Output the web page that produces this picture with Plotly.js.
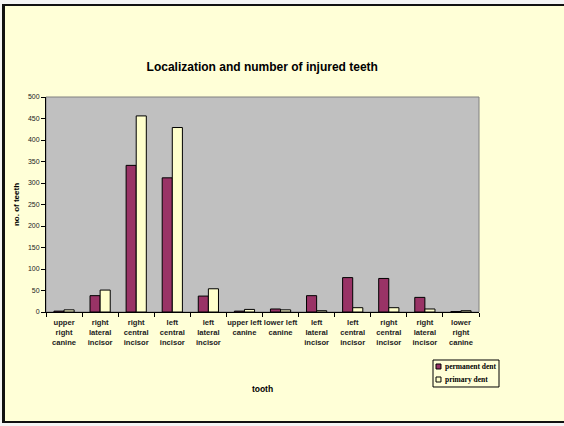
<!DOCTYPE html>
<html>
<head>
<meta charset="utf-8">
<script src="https://cdn.plot.ly/plotly-3.0.1.min.js"></script>
<style>
html,body{margin:0;padding:0;background:#f4f4f4;overflow:hidden;width:564px;height:426px;}
#frame{position:absolute;left:2px;top:4px;width:600px;height:419px;background:#FFFFD7;border-left:3px solid #111;border-top:2px solid #111;border-bottom:2px solid #111;border-right:none;box-sizing:border-box;}
#chart{position:absolute;left:0;top:0;width:564px;height:426px;}
</style>
</head>
<body>
<div id="frame"></div>
<div id="chart"></div>
<script>
var categories = [
  "upper<br>right<br>canine",
  "right<br>lateral<br>incisor",
  "right<br>central<br>incisor",
  "left<br>central<br>incisor",
  "left<br>lateral<br>incisor",
  "upper left<br>canine",
  "lower left<br>canine",
  "left<br>lateral<br>incisor",
  "left<br>central<br>incisor",
  "right<br>central<br>incisor",
  "right<br>lateral<br>incisor",
  "lower<br>right<br>canine"
];
var seriesNames = ["permanent dent", "primary dent"];
var permanentDent = [2, 38, 341, 312, 37, 2, 7, 38, 80, 78, 34, 1];
var primaryDent   = [5, 51, 456, 429, 54, 6, 5, 3, 10, 10, 7, 3];
var yTicks = [0, 50, 100, 150, 200, 250, 300, 350, 400, 450, 500];
var seriesColors = ['#993366', '#FFFFCC'];

var positions = categories.map(function(_, i){ return i; });
var boundaries = [];
for (var i = 0; i <= categories.length; i++) boundaries.push(i - 0.5);

var traces = [
  {type:'bar', name:seriesNames[0], x:positions, y:permanentDent,
   marker:{color:seriesColors[0], line:{color:'#000', width:1}}},
  {type:'bar', name:seriesNames[1], x:positions, y:primaryDent,
   marker:{color:seriesColors[1], line:{color:'#000', width:1}}}
];

// custom compact legend (box + swatches + labels)
var legendFont = {family:'Liberation Serif, Times New Roman, serif', size:7.5, weight:'bold', color:'#000'};
var shapes = [
  {type:'rect', xref:'paper', yref:'paper', x0:0, x1:1, y0:0, y1:1,
   line:{color:'#808080', width:1}, layer:'below'},
  {type:'rect', xref:'paper', yref:'paper', x0:0.8938, x1:1.0462, y0:-0.3488, y1:-0.2233,
   line:{color:'#000', width:1}, fillcolor:'#FFFFD7'},
  {type:'rect', xref:'paper', yref:'paper', x0:0.9007, x1:0.9122, y0:-0.2651, y1:-0.2419,
   line:{color:'#000', width:1}, fillcolor:seriesColors[0]},
  {type:'rect', xref:'paper', yref:'paper', x0:0.9007, x1:0.9122, y0:-0.3256, y1:-0.3023,
   line:{color:'#000', width:1}, fillcolor:seriesColors[1]}
];
var annotations = [
  {xref:'paper', yref:'paper', x:0.9169, y:-0.2535, xanchor:'left', yanchor:'middle',
   text:seriesNames[0], showarrow:false, font:legendFont},
  {xref:'paper', yref:'paper', x:0.9169, y:-0.314, xanchor:'left', yanchor:'middle',
   text:seriesNames[1], showarrow:false, font:legendFont}
];

var layout = {
  width:564, height:426,
  paper_bgcolor:'rgba(0,0,0,0)',
  plot_bgcolor:'#C0C0C0',
  margin:{l:46, r:85, t:97, b:114, autoexpand:false},
  barmode:'group', bargap:0.44, bargroupgap:0,
  showlegend:false,
  title:{text:'Localization and number of injured teeth', x:0.465, xanchor:'center', y:0.843, yanchor:'middle',
         font:{family:'Liberation Sans, Arial, sans-serif', size:12, color:'#000', weight:'bold'}},
  font:{family:'Liberation Sans, Arial, sans-serif', color:'#000'},
  xaxis:{
    range:[-0.5, categories.length - 0.5],
    tickmode:'array', tickvals:positions, ticktext:categories, tickangle:0,
    ticks:'', showgrid:false, zeroline:false, automargin:false,
    ticklabelstandoff:3,
    showline:true, linecolor:'#000', linewidth:1,
    tickfont:{size:7.6, weight:'bold', color:'#222'},
    minor:{tickmode:'array', tickvals:boundaries, ticks:'outside', ticklen:4, tickcolor:'#000', tickwidth:1, showgrid:false},
    title:{text:'tooth', font:{size:8.5, weight:'bold'}, standoff:40}
  },
  yaxis:{
    range:[0, 500], tickmode:'array', tickvals:yTicks,
    ticks:'outside', ticklen:4, tickcolor:'#000',
    showgrid:false, zeroline:false, automargin:false,
    showline:true, linecolor:'#000', linewidth:1,
    tickfont:{size:7, color:'#222'},
    title:{text:'no. of teeth', font:{size:8, weight:'bold'}, standoff:7}
  },
  shapes:shapes,
  annotations:annotations
};

Plotly.newPlot('chart', traces, layout, {displayModeBar:false, staticPlot:true});
</script>
</body>
</html>
